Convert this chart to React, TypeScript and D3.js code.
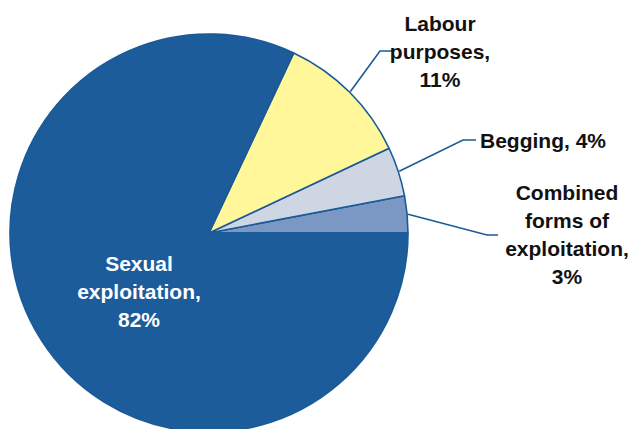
import React from "react";
import * as d3 from "d3";

const categories = ["Combined forms of exploitation", "Begging", "Labour purposes", "Sexual exploitation"];
const values = [3, 4, 11, 82];
const colors = ["#7b97c3", "#ced6e4", "#fff799", "#1c5c9b"];
const labelLines = [
  ["Combined", "forms of", "exploitation,", "3%"],
  ["Begging, 4%"],
  ["Labour", "purposes,", "11%"],
  ["Sexual", "exploitation,", "82%"],
];

const W = 632;
const H = 429;
const cx = 209;
const cy = 233;
const R = 199;
const FS = 21;
const LH = 28;

// layout for external labels: elbow point, end point, text anchor, text position
const layout = [
  { elbow: [487, 235], end: [498, 235], tx: 567, ty: 192, anchor: "middle" },
  { elbow: [463, 140], end: [476, 140], tx: 480, ty: 140, anchor: "start" },
  { elbow: [380, 51], end: [393, 51], tx: 440, ty: 23, anchor: "middle" },
];

export default function App() {
  const pie = d3
    .pie<number>()
    .sort(null)
    .startAngle(Math.PI / 2)
    .endAngle(Math.PI / 2 - 2 * Math.PI);
  const arcs = pie(values);
  const arcGen = d3.arc<d3.PieArcDatum<number>>().innerRadius(0).outerRadius(R);

  return (
    <svg
      width={W}
      height={H}
      style={{ position: "absolute", left: 0, top: 0, display: "block", background: "#fff" }}
      fontFamily="'Liberation Sans', Arial, sans-serif"
      fontWeight="bold"
      fontSize={FS}
    >
      <g transform={`translate(${cx},${cy})`}>
        {arcs.map((a, i) => (
          <path key={categories[i]} d={arcGen(a) || ""} fill={colors[i]} stroke="#1a5a97" strokeWidth={1.6} strokeLinejoin="round" />
        ))}
      </g>
      {layout.map((l, i) => {
        const a = arcs[i];
        const mid = (a.startAngle + a.endAngle) / 2;
        const sx = cx + Math.sin(mid) * (R + 1);
        const sy = cy - Math.cos(mid) * (R + 1);
        return (
          <g key={"lbl" + i}>
            <polyline
              points={`${sx},${sy} ${l.elbow[0]},${l.elbow[1]} ${l.end[0]},${l.end[1]}`}
              fill="none"
              stroke="#1a5a97"
              strokeWidth={1.6}
            />
            <text textAnchor={l.anchor} fill="#111" dominantBaseline="central">
              {labelLines[i].map((t, j) => (
                <tspan key={j} x={l.tx} y={l.ty + j * LH}>
                  {t}
                </tspan>
              ))}
            </text>
          </g>
        );
      })}
      <text textAnchor="middle" fill="#fff" dominantBaseline="central">
        {labelLines[3].map((t, j) => (
          <tspan key={j} x={139} y={263 + j * 28}>
            {t}
          </tspan>
        ))}
      </text>
    </svg>
  );
}
